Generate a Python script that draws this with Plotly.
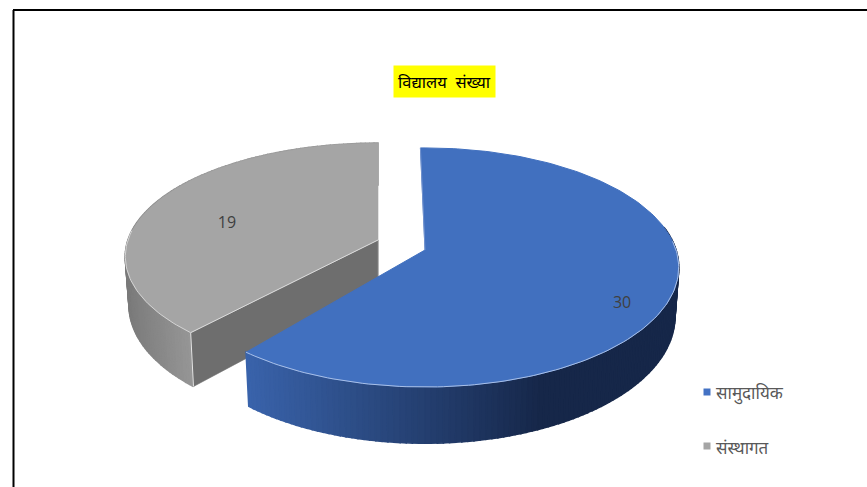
import numpy as np
import plotly.graph_objects as go

categories = ["सामुदायिक", "संस्थागत"]
values = [30, 19]
title_text = "विद्यालय  संख्या"
top_colors = ["#4170BF", "#A5A5A5"]
legend_colors = ["#4472C4", "#A5A5A5"]
FONT = "Noto Sans, Liberation Sans, DejaVu Sans, sans-serif"

# projection of the pie plane onto the page
P = 0.146
DEPTH = 48.0
ROTATION = np.radians(-1.2)
GREY_ROTATION = np.radians(1.5)
CENTERS = [(425.0, 250.0), (378.0, 240.0)]
RADII = [(251.0, 117.0), (250.0, 111.0)]
LEGEND_Y = [392, 446]


def project(slice_i, theta, r=1.0, lower=False):
    cx, cy = CENTERS[slice_i]
    A, K = RADII[slice_i]
    u = r * np.sin(theta)
    v = -r * np.cos(theta)
    f = 1.0 / (1.0 - P * v)
    scale = 0.985 if lower else 1.0
    x = cx + A * scale * u * f
    y = cy + K * v * f + (DEPTH * f if lower else 0.0)
    return x, y


def lerp_color(c0, c1, t):
    t = float(np.clip(t, 0, 1))
    rgb = [round(a + (b - a) * t) for a, b in zip(c0, c1)]
    return f"rgb({rgb[0]},{rgb[1]},{rgb[2]})"


def poly(fig, x, y, color, width=0.6):
    fig.add_trace(go.Scatter(
        x=list(x) + [x[0]], y=list(y) + [y[0]], mode="lines", fill="toself",
        fillcolor=color, line=dict(color=color, width=width),
        showlegend=False, hoverinfo="skip"))


def edge(fig, x, y, color, width=1.0):
    fig.add_trace(go.Scatter(x=list(x), y=list(y), mode="lines",
                             line=dict(color=color, width=width),
                             showlegend=False, hoverinfo="skip"))


total = sum(values)
split_angle = 2 * np.pi * values[0] / total

fig = go.Figure()

# ---- grey slice (behind) ----
th = np.linspace(split_angle + GREY_ROTATION, 2 * np.pi, 121)
xt, yt = project(1, th)
xb, yb = project(1, th, lower=True)

# outer wall
for i in range(len(th) - 1):
    t = (xt[i] - xt[0]) / (xt.min() - xt[0])
    poly(fig, [xt[i], xt[i + 1], xb[i + 1], xb[i]], [yt[i], yt[i + 1], yb[i + 1], yb[i]],
         lerp_color((150, 150, 150), (122, 122, 122), t), width=1.6)

# cut face
ax, ay = project(1, 0.0, r=0.0)
bx, by = project(1, 0.0, r=0.0, lower=True)
poly(fig, [ax, xt[0], xb[0], bx], [ay, yt[0], yb[0], by], "#6E6E6E")
edge(fig, [xt[0], xb[0]], [yt[0], yb[0]], "#E6E6E6", 1.0)
edge(fig, [ax, bx], [ay, by], "#8A8A8A", 0.8)

# top
poly(fig, [ax] + list(xt), [ay] + list(yt), top_colors[1])
mask = th < np.radians(275)
edge(fig, xt[mask], yt[mask], "#D4D4D4", 1.0)
edge(fig, [ax, xt[0]], [ay, yt[0]], "#DCDCDC", 1.0)

# ---- blue slice (front) ----
th = np.linspace(ROTATION, split_angle + ROTATION, 181)
xt, yt = project(0, th)
xb, yb = project(0, th, lower=True)

x_left = xt[-1]
for i in range(len(th) - 2, -1, -1):
    if th[i] < np.pi * 0.43:
        continue
    t = (xt[i] - x_left) / 300.0
    poly(fig, [xt[i], xt[i + 1], xb[i + 1], xb[i]], [yt[i], yt[i + 1], yb[i + 1], yb[i]],
         lerp_color((58, 100, 172), (22, 39, 73), t), width=1.6)

ax, ay = project(0, 0.0, r=0.0)
poly(fig, [ax] + list(xt), [ay] + list(yt), top_colors[0], width=1.0)
mask = th > np.pi * 0.47
edge(fig, xt[mask], yt[mask], "#A9C0E8", 1.0)
edge(fig, [xt[0], ax], [yt[0], ay], "#7F9CD2", 0.8)

# ---- value labels, on each slice's surface ----
label_pos = [project(0, np.radians(120.4), r=0.853),
             project(1, np.radians(283.5), r=0.635)]
fig.add_trace(go.Scatter(
    x=[p[0] for p in label_pos], y=[p[1] for p in label_pos],
    mode="text", text=[str(v) for v in values],
    textfont=dict(family="Open Sans, Liberation Sans, sans-serif", size=16, color="#404040"),
    showlegend=False, hoverinfo="skip"))

# ---- legend entries ----
annotations = [dict(x=444.5, y=81.5, xref="x", yref="y", text=title_text, showarrow=False,
                    font=dict(family=FONT, size=16.5, color="black"),
                    bgcolor="#FFFF00", borderpad=4)]
for name, color, ly in zip(categories, legend_colors, LEGEND_Y):
    fig.add_trace(go.Scatter(x=[707], y=[ly], mode="markers", name=name, showlegend=False,
                             marker=dict(symbol="square", size=7, color=color)))
    annotations.append(dict(x=714, y=ly + 1, xref="x", yref="y", xanchor="left", text=name,
                            showarrow=False, font=dict(family=FONT, size=17, color="#595959")))

fig.update_layout(
    width=867, height=487, margin=dict(l=0, r=0, t=0, b=0),
    paper_bgcolor="white", plot_bgcolor="white",
    xaxis=dict(range=[0, 867], visible=False, fixedrange=True),
    yaxis=dict(range=[487, 0], visible=False, fixedrange=True),
    annotations=annotations,
    shapes=[dict(type="line", xref="x", yref="y", x0=13.5, y0=487, x1=13.5, y1=10,
                 line=dict(color="black", width=2)),
            dict(type="line", xref="x", yref="y", x0=13, y0=10, x1=867, y1=10,
                 line=dict(color="black", width=2))],
)
fig.write_html("out.html", config={"displayModeBar": False},
               post_script="document.body.style.margin='0';")
